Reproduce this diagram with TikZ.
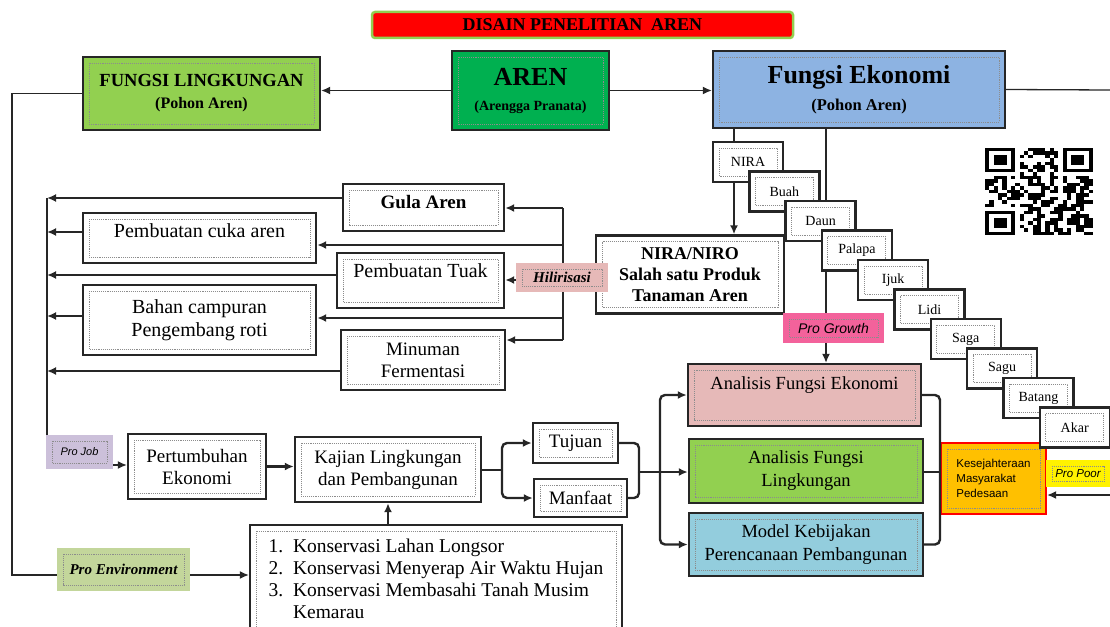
\documentclass[tikz,border=0pt]{standalone}
\usepackage{fontspec}
\setmainfont{Liberation Serif}
\newfontfamily\tagfont{Liberation Sans}
\usetikzlibrary{arrows.meta}
\definecolor{leafgreen}{RGB}{146,208,80}
\definecolor{arengreen}{RGB}{0,176,80}
\definecolor{ekoblue}{RGB}{141,179,226}
\definecolor{rosebox}{RGB}{230,185,184}
\definecolor{skybox}{RGB}{147,205,221}
\definecolor{amberbox}{RGB}{255,192,0}
\definecolor{jobpurple}{RGB}{204,192,218}
\definecolor{envgreen}{RGB}{195,214,155}
\definecolor{growpink}{RGB}{243,98,155}
\tikzset{
  inframe/.style={path picture={\draw[black!45,densely dotted,line width=0.9pt] ([shift={(6pt,-6pt)}]path picture bounding box.north west) rectangle ([shift={(-6pt,6pt)}]path picture bounding box.south east);}},
  box/.style={shape=rectangle,draw=black!85,line width=2.4pt,fill=white,inner sep=2pt,align=center,inframe,font=\fontsize{19}{22}\selectfont},
  stepbox/.style={box,minimum width=70pt,minimum height=40pt,font=\fontsize{14}{16}\selectfont},
  tag/.style={shape=rectangle,inner sep=2pt,inframe},
  banner/.style={shape=rectangle,fill=red,draw=leafgreen,line width=2.5pt,rounded corners=3pt,font=\bfseries\fontsize{18}{20}\selectfont},
  link/.style={line width=1.3pt,black!85},
  flow/.style={line width=2.4pt,black!85},
  arr/.style={-{Latex[length=9pt,width=8pt]}},
}
\begin{document}
\begin{tikzpicture}[x=1pt,y=-1pt]
\useasboundingbox (0,0) rectangle (1110,626);
\node[banner,minimum width=421pt,minimum height=26pt](title) at (582.5,25){DISAIN PENELITIAN\ \ AREN};
\node[box,fill=leafgreen,minimum width=237pt,minimum height=73pt,font=\bfseries\fontsize{18.5}{22}\selectfont](fl) at (201.5,93.5){FUNGSI LINGKUNGAN\\{\fontsize{16}{19}\selectfont (Pohon Aren)}};
\node[box,fill=arengreen,minimum width=157pt,minimum height=79pt,font=\bfseries\fontsize{14}{25}\selectfont](aren) at (530.5,90.5){{\fontsize{26}{30}\selectfont AREN}\\(Arengga Pranata)};
\node[box,fill=ekoblue,minimum width=292pt,minimum height=77pt,font=\bfseries\fontsize{16.5}{27}\selectfont](feko) at (859,89.5){{\fontsize{26}{30}\selectfont Fungsi Ekonomi}\\(Pohon Aren)};

\node[box,minimum width=161pt,minimum height=47pt,font=\bfseries\fontsize{19}{22}\selectfont,text depth=12pt](gula) at (423.5,207.5){Gula Aren};
\node[box,minimum width=233pt,minimum height=50pt,font=\fontsize{20}{23}\selectfont,text depth=14pt](cuka) at (199.5,238){Pembuatan cuka aren};
\node[box,minimum width=167pt,minimum height=55pt,font=\fontsize{20}{23}\selectfont,text depth=20pt](tuak) at (420.5,280.5){Pembuatan Tuak};
\node[box,minimum width=233pt,minimum height=70pt,font=\fontsize{20}{23}\selectfont](bahan) at (199.5,320){Bahan campuran\\Pengembang roti};
\node[box,minimum width=164pt,minimum height=60pt](minum) at (423,360){Minuman\\Fermentasi};
\node[box,minimum width=188pt,minimum height=78pt,font=\bfseries\fontsize{18}{21}\selectfont](niro) at (690,274.5){NIRA/NIRO\\Salah satu Produk\\Tanaman Aren};

\node[box,fill=rosebox,minimum width=233pt,minimum height=62pt,font=\fontsize{18.5}{22}\selectfont,text depth=24pt](aeko) at (804.5,395){Analisis Fungsi Ekonomi};
\node[box,fill=leafgreen,minimum width=234pt,minimum height=64pt,font=\fontsize{18.5}{23}\selectfont](aling) at (806,471){Analisis Fungsi\\Lingkungan};
\node[box,fill=skybox,minimum width=234pt,minimum height=63pt,font=\fontsize{18.5}{23}\selectfont](model) at (806,544.5){Model Kebijakan\\Perencanaan Pembangunan};
\node[box,fill=amberbox,draw=red,minimum width=105pt,minimum height=71pt,align=left,font=\tagfont\fontsize{11.5}{15}\selectfont](kes) at (993.5,478.5){Kesejahteraan\\Masyarakat\\Pedesaan};

\node[box,minimum width=138pt,minimum height=65pt](pert) at (197,466.5){Pertumbuhan\\Ekonomi};
\node[box,minimum width=186pt,minimum height=65pt](kaj) at (388,469.5){Kajian Lingkungan\\dan Pembangunan};
\node[box,minimum width=85pt,minimum height=40pt](tuj) at (575.5,443){Tujuan};
\node[box,minimum width=93pt,minimum height=38pt](manf) at (580.5,498){Manfaat};
\node[box,minimum width=372pt,minimum height=108pt,align=left,font=\fontsize{19.5}{22}\selectfont](kons) at (436,579){1.\ \ Konservasi Lahan Longsor\\2.\ \ Konservasi Menyerap Air Waktu Hujan\\3.\ \ Konservasi Membasahi Tanah Musim\\\hphantom{3.\ \ }Kemarau};

\coordinate (rim) at (1110,90);
\coordinate (envcorner) at (12,575);
\coordinate (jobtop) at (47,198);
\coordinate (jobcorner) at (47,465);
\coordinate (hiltop) at (563,208);
\coordinate (hilbot) at (563,340);
\coordinate (niracol) at (734,0);
\coordinate (growcol) at (826,0);
\coordinate (split) at (502,470);
\coordinate (merge) at (639,472);
\coordinate (fork) at (660,472);
\coordinate (rjoin) at (940,472);
\coordinate (poorin) at (1110,495);

\draw[link,arr] (aren.west) -- (aren.west -| fl.east);
\draw[link,arr] (aren.east) -- (aren.east -| feko.west);
\draw[link] (feko.east) -- (rim);
\draw[link,arr] (fl.west) -| (envcorner) -- (kons.west |- envcorner);
\draw[link] (jobtop) -- (jobcorner);
\draw[link,arr] (jobcorner) -- (pert.west |- jobcorner);
\foreach \b/\y in {gula/198,cuka/232,tuak/275,bahan/316,minum/371}
  \draw[flow,arr] (\b.west |- 0,\y) -- (jobtop |- 0,\y);
\draw[flow] (hiltop) -- (hilbot);
\draw[flow] (niro.west |- 0,277) -- (hiltop |- 0,277);
\foreach \b/\y in {gula/208,cuka/245,tuak/280,bahan/318,minum/340}
  \draw[flow,arr] (hiltop |- 0,\y) -- (\b.east |- 0,\y);
\draw[link,arr] (feko.south -| growcol) -- (aeko.north -| growcol);

\foreach \t [count=\k from 0] in {NIRA,Buah,Daun,Palapa,Ijuk,Lidi,Saga,Sagu,Batang,Akar}
  \node[stepbox](p\k) at (748+36.3*\k,162+29.5*\k){\t};
\draw[link] (feko.south -| niracol) -- (p0.north -| niracol);
\draw[flow,arr] (p0.south -| niracol) -- (niro.north -| niracol);

\draw[flow,arr] (pert.east) -- (pert.east -| kaj.west);
\draw[flow,arr] (kons.north -| kaj.south) -- (kaj.south);
\draw[flow] (kaj.east |- split) -- (split);
\draw[flow,arr,rounded corners=5pt] (split) |- (tuj.west);
\draw[flow,arr,rounded corners=5pt] (split) |- (manf.west);
\draw[flow,rounded corners=5pt] (tuj.east) -| (merge);
\draw[flow,rounded corners=5pt] (manf.east) -| (merge);
\draw[flow] (merge) -- (fork);
\draw[flow,arr,rounded corners=5pt] (fork) |- (aeko.west);
\draw[flow,arr] (fork) -- (fork -| aling.west);
\draw[flow,arr,rounded corners=5pt] (fork) |- (model.west);
\draw[flow,rounded corners=5pt] (aeko.east) -| (rjoin);
\draw[flow,rounded corners=5pt] (model.east) -| (rjoin);
\draw[flow] (aling.east |- rjoin) -- (kes.west |- rjoin);
\draw[link,arr] (poorin) -- (kes.east |- poorin);

\node[tag,fill=rosebox,minimum width=92pt,minimum height=29pt,font=\bfseries\itshape\fontsize{15}{17}\selectfont](hil) at (562,277.5){Hilirisasi};
\node[tag,fill=growpink,minimum width=101pt,minimum height=30pt,font=\tagfont\itshape\fontsize{14}{16}\selectfont](grow) at (833.5,328){Pro Growth};
\node[tag,fill=jobpurple,minimum width=67pt,minimum height=34pt,font=\tagfont\itshape\fontsize{11}{13}\selectfont](job) at (79.5,452){Pro Job};
\node[tag,fill=envgreen,minimum width=133pt,minimum height=43pt,font=\bfseries\itshape\fontsize{15}{17}\selectfont](env) at (123.5,569.5){Pro Environment};
\node[tag,fill=yellow,minimum width=64pt,minimum height=27pt,font=\tagfont\itshape\fontsize{11.5}{13}\selectfont](poor) at (1078,473.5){Pro Poor};

\pgfmathsetseed{11}
\foreach \i in {0,...,24}{
  \foreach \j in {0,...,24}{
    \pgfmathrandominteger{\qa}{0}{1}
    \ifnum\i<8 \ifnum\j<8 \def\qa{0}\fi\ifnum\j>16 \def\qa{0}\fi\fi
    \ifnum\i>16 \ifnum\j<8 \def\qa{0}\fi\fi
    \ifnum\qa=1 \fill (985+\i*4.32,148+\j*3.48) rectangle ++(4.32,3.48);\fi
  }
}
\foreach \qx/\qy in {0/0,18/0,0/18}{
  \fill (985+\qx*4.32,148+\qy*3.48) rectangle ++(30.24,24.36);
  \fill[white] (989.32+\qx*4.32,151.48+\qy*3.48) rectangle ++(21.6,17.4);
  \fill (993.64+\qx*4.32,154.96+\qy*3.48) rectangle ++(12.96,10.44);
}
\end{tikzpicture}
\end{document}
